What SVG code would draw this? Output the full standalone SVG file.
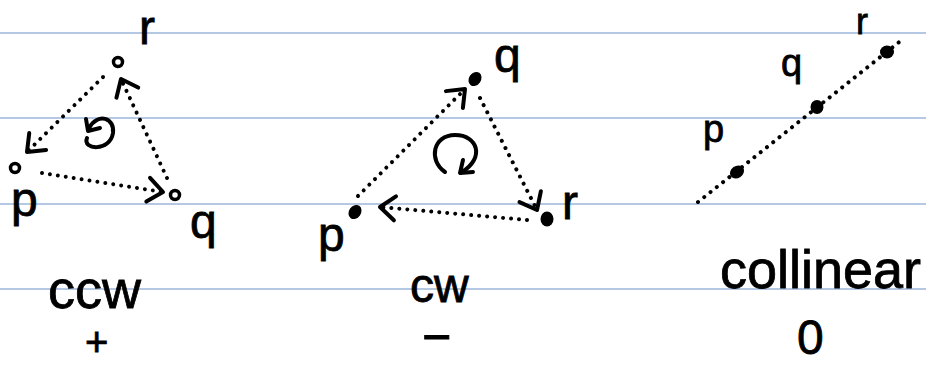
<svg xmlns="http://www.w3.org/2000/svg" width="926" height="365" viewBox="0 0 926 365">
<style>
.rule{stroke:#b4c7e3;stroke-width:2}
.dot{fill:none;stroke:#000;stroke-width:4;stroke-linecap:round;stroke-dasharray:0.01 8}
.ink{fill:none;stroke:#000;stroke-width:4;stroke-linecap:round;stroke-linejoin:round}
.ring{fill:#fff;stroke:#000;stroke-width:3.5}
.pt{fill:#000}
text{font-family:"Liberation Sans",Arial,sans-serif;fill:#000;stroke:#000;stroke-width:0.8}
.lbl{font-size:48px}
.small{font-size:38px}
.cap{font-size:54px}
</style>
<defs>
<marker id="chev" markerUnits="userSpaceOnUse" markerWidth="40" markerHeight="40" viewBox="-20 -20 40 40" refX="0" refY="0" orient="auto">
<path d="M-15 -12 L0 0 L-15 12" fill="none" stroke="#000" stroke-width="4" stroke-linecap="round" stroke-linejoin="round"/>
</marker>
</defs>
<rect width="926" height="365" fill="#fff"/>
<g id="rules">
<line class="rule" x1="0" y1="33" x2="926" y2="33"/>
<line class="rule" x1="0" y1="118" x2="926" y2="118"/>
<line class="rule" x1="0" y1="204" x2="926" y2="204"/>
<line class="rule" x1="0" y1="289" x2="926" y2="289"/>
</g>
<g id="connectors">
<path class="dot" d="M42 173 L163 192" marker-end="url(#chev)"/>
<path class="dot" d="M167 178 L121 79" marker-end="url(#chev)"/>
<path class="dot" d="M103 77 L27 152" marker-end="url(#chev)"/>
<path class="dot" d="M358 196 L465 89" marker-end="url(#chev)"/>
<path class="dot" d="M480 98 L537 210" marker-end="url(#chev)"/>
<path class="dot" d="M527 220 L380 207" marker-end="url(#chev)"/>
<path class="dot" d="M698 202 L903 39"/>
</g>
<g id="rotation-ccw">
<path class="ink" d="M87 138 C82 150 110 152 113 133 C115 118 98 112 89 128"/>
<path class="ink" d="M86 119 L88 131 L100 128"/>
</g>
<g id="rotation-cw">
<path class="ink" d="M445 172 C428 160 433 135 455 135 C478 135 485 158 462 172"/>
<path class="ink" d="M463 160 L460 173 L473 172"/>
</g>
<g id="ccw-p"><circle class="ring" cx="15" cy="168" r="4.5"/><text class="lbl" x="11" y="216">p</text></g>
<g id="ccw-q"><circle class="ring" cx="175" cy="195" r="4.5"/><text class="lbl" x="190" y="238">q</text></g>
<g id="ccw-r"><circle class="ring" cx="118" cy="62" r="4.5"/><text class="lbl" x="139" y="44">r</text></g>
<g id="cw-p"><ellipse class="pt" cx="355" cy="212" rx="6" ry="7.5" transform="rotate(35 355 212)"/><text class="lbl" x="318" y="251">p</text></g>
<g id="cw-q"><ellipse class="pt" cx="475" cy="79" rx="6" ry="7.5" transform="rotate(35 475 79)"/><text class="lbl" x="494" y="72">q</text></g>
<g id="cw-r"><ellipse class="pt" cx="547" cy="219" rx="6.5" ry="7.5"/><text class="lbl" x="562" y="219">r</text></g>
<g id="col-p"><ellipse class="pt" cx="737" cy="172" rx="7.5" ry="6" transform="rotate(-35 737 172)"/><text class="small" x="703" y="142">p</text></g>
<g id="col-q"><ellipse class="pt" cx="817" cy="107" rx="6.5" ry="7"/><text class="small" x="781" y="76">q</text></g>
<g id="col-r"><ellipse class="pt" cx="887" cy="52" rx="7" ry="6.5"/><text style="font-size:36px" x="856" y="34">r</text></g>
<g id="captions">
<text class="cap" x="48" y="308">ccw</text>
<text style="font-size:40px" x="85" y="356">+</text>
<text style="font-size:48px" x="410" y="302">cw</text>
<text style="font-size:50px" x="422" y="354">−</text>
<text class="cap" x="720" y="288">collinear</text>
<text style="font-size:48px" x="797" y="354">0</text>
</g>
</svg>
